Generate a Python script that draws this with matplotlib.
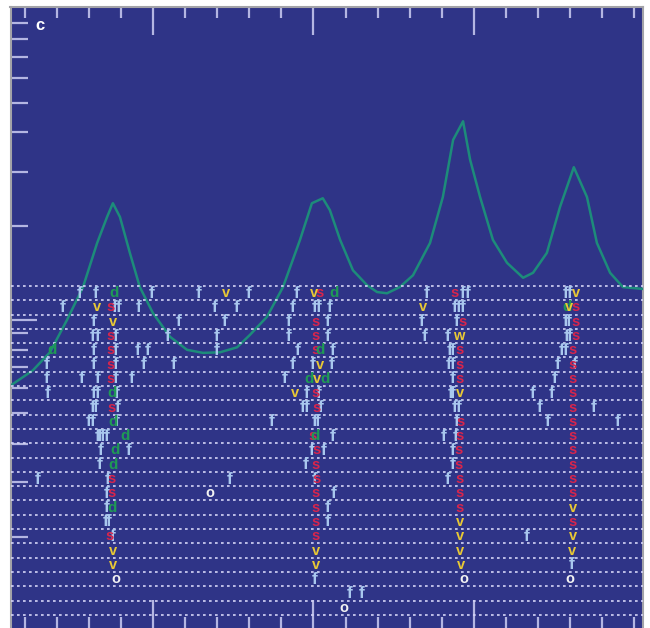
import matplotlib
matplotlib.use("Agg")
import matplotlib.pyplot as plt
from matplotlib.ticker import FixedLocator, NullFormatter

# signal trace along the section (x in tick units, y in % of frame height)
trace_x = [-4.2, 2.6, 7.9, 13.2, 18.2, 22.6, 25.7, 27.5, 29.7, 32.8, 35.9, 40.0,
           45.3, 50.6, 55.6, 60.9, 66.2, 70.2, 75.5, 80.5, 85.8, 89.5, 92.9, 95.1,
           98.3, 102.3, 106.7, 109.8, 112.9, 116.9, 121.0, 126.3, 130.3, 133.5,
           136.6, 138.8, 141.9, 145.9, 150.3, 155.3, 158.4, 162.7, 166.8, 171.1,
           175.2, 178.3, 182.4, 186.4, 192.6]
trace_y = [39.1, 41.5, 44.4, 49.6, 54.9, 62.0, 66.2, 68.4, 66.2, 60.4, 54.9, 50.7,
           46.9, 44.8, 44.3, 44.4, 45.2, 47.2, 50.1, 54.9, 62.5, 68.4, 69.2, 67.3,
           62.5, 57.6, 55.2, 54.1, 53.9, 54.9, 56.8, 62.0, 69.4, 78.6,
           81.6, 75.4, 69.4, 62.5, 58.8, 56.4, 57.2, 60.4, 67.8, 74.2,
           69.4, 62.0, 57.2, 54.9, 54.6]

n_rows = 23

# letter codes per row: {row: [x, ...]}
f_marks = {
    0: [17.3, 22.2, 39.7, 54.3, 69.9, 84.9, 125.4, 136.6, 138.1, 168.7, 169.9],
    1: [12.0, 28.2, 29.4, 35.6, 59.3, 66.2, 83.6, 90.5, 91.7, 95.1, 134.1, 135.3, 136.6],
    2: [21.6, 48.1, 62.4, 82.1, 94.5, 123.8, 134.7, 168.7, 169.6],
    3: [21.3, 22.6, 28.5, 44.7, 59.9, 82.4, 94.5, 124.7, 131.9, 169.0, 169.9],
    4: [21.6, 28.5, 35.3, 38.4, 59.9, 85.2, 96.1, 132.5, 133.5, 167.4, 168.7],
    5: [7.0, 21.6, 28.5, 37.2, 46.5, 83.6, 89.8, 95.8, 132.2, 133.5, 166.2, 171.5],
    6: [7.0, 17.9, 22.6, 28.5, 33.5, 81.1, 133.5, 165.2],
    7: [7.3, 21.6, 22.6, 28.8, 88.0, 91.7, 132.8, 133.5, 158.4, 164.3],
    8: [21.3, 22.2, 29.1, 86.7, 88.0, 92.3, 134.1, 135.3, 160.6, 177.4],
    9: [20.1, 21.3, 28.8, 77.1, 90.5, 91.4, 134.7, 163.0, 184.9],
    10: [22.6, 23.5, 24.4, 25.7, 96.1, 130.6, 134.4],
    11: [23.8, 32.5, 89.5, 93.3, 133.5],
    12: [23.5, 87.7, 133.5],
    13: [4.2, 26.0, 64.0, 90.5, 131.9],
    14: [25.7, 96.4],
    15: [25.7, 94.5],
    16: [25.4, 26.3, 94.5],
    17: [27.5, 156.5],
    19: [170.5],
    20: [90.5],
    21: [101.4, 105.1],
}
s_marks = {
    0: [92.0, 134.1],
    1: [26.9, 171.5],
    2: [90.8, 136.3, 171.5],
    3: [26.9, 90.8, 171.5],
    4: [26.9, 90.5, 135.6, 170.8],
    5: [26.9, 135.6, 170.8],
    6: [26.9, 135.6, 170.8],
    7: [90.8, 170.8],
    8: [27.2, 91.1, 170.8],
    9: [135.9, 170.8],
    10: [89.8, 135.6, 170.8],
    11: [91.1, 135.3, 170.8],
    12: [90.5, 135.3, 170.8],
    13: [27.2, 91.1, 135.6, 170.8],
    14: [27.2, 90.5, 135.6, 170.8],
    15: [90.8, 135.6],
    16: [90.8, 170.8],
    17: [26.6, 90.8],
}
d_marks = {
    0: [27.9, 96.4],
    1: [169.0],
    4: [8.5, 92.0],
    6: [88.6, 93.6],
    7: [27.2],
    9: [27.5],
    10: [31.3, 90.5],
    11: [28.2],
    12: [27.5],
    15: [27.2],
}
v_marks = {
    0: [62.7, 90.1, 171.8],
    1: [22.6, 124.1, 169.6],
    2: [27.5],
    5: [92.0],
    6: [91.1],
    7: [84.2, 135.6],
    15: [170.8],
    16: [135.6],
    17: [135.6, 170.8],
    18: [27.5, 90.8, 135.6, 170.5],
    19: [27.5, 90.8, 135.9],
}
w_marks = {3: [135.3]}
o_marks = {14: [57.8], 20: [28.5, 136.9, 169.9], 22: [99.5]}

x_major = [40, 90, 140]
x_minor = [0, 10, 20, 30, 50, 60, 70, 80, 100, 110, 120, 130, 150, 160, 170, 180, 190]
y_major = [49.6]
y_minor = [97.4, 94.8, 91.9, 88.6, 84.5, 79.9, 73.4, 64.7,
           47.5, 44.8, 42.0, 38.6, 34.6, 29.6, 23.5, 14.7]

BG = "#2f3487"
TICK = "#b4b6e2"
FRAME = "#a3a3a8"

# (marks, letter, colour, weight, size)
styles = [
    (f_marks, "f", "#a9c7ee", "bold", 12.5),
    (s_marks, "s", "#d8254c", "bold", 10.5),
    (d_marks, "d", "#1f9a55", "bold", 11),
    (v_marks, "v", "#e9c935", "bold", 10.5),
    (w_marks, "w", "#e9c935", "bold", 10.5),
    (o_marks, "o", "#f2f2f2", "bold", 10.5),
]

fig = plt.figure(figsize=(6.5, 6.28), dpi=100)
ax = fig.add_axes([10.5 / 650, 0, 632 / 650, 621 / 628])
ax.set_facecolor(BG)
ax.set_xlim(-4.39, 192.5)
ax.set_ylim(0, 100)

ax.plot(trace_x, trace_y, color="#1d8c7a", lw=1.8, zorder=3,
        solid_joinstyle="round")

ax.xaxis.set_major_locator(FixedLocator(x_major))
ax.xaxis.set_minor_locator(FixedLocator(x_minor))
ax.yaxis.set_major_locator(FixedLocator(y_major))
ax.yaxis.set_minor_locator(FixedLocator(y_minor))
for a in (ax.xaxis, ax.yaxis):
    a.set_major_formatter(NullFormatter())
    a.set_minor_formatter(NullFormatter())
ax.tick_params(axis="x", which="major", direction="in", length=20, width=1.6,
               color=TICK, top=True, bottom=True)
ax.tick_params(axis="x", which="minor", direction="in", length=8, width=1.6,
               color=TICK, top=True, bottom=True)
ax.tick_params(axis="y", which="major", direction="in", length=19, width=1.6,
               color=TICK, left=True, right=True)
ax.tick_params(axis="y", which="minor", direction="in", length=12.5, width=1.6,
               color=TICK, left=True, right=True)
for side in ("left", "top", "right"):
    ax.spines[side].set_color(FRAME)
    ax.spines[side].set_linewidth(1.5)
ax.spines["bottom"].set_visible(False)

# row grid for the letter codes, sharing x with the trace
axr = ax.twinx()
axr.set_ylim(23.92, -19.51)
axr.set_yticks([])
for side in axr.spines:
    axr.spines[side].set_visible(False)
for k in range(n_rows + 1):
    axr.axhline(k, color="#d4d4f6", lw=1.2, ls=(0, (1.6, 2.0)), zorder=1)

fam = ["Liberation Sans Narrow", "Liberation Sans", "DejaVu Sans"]
for marks, ch, col, wt, size in styles:
    for row, xs in marks.items():
        for x in xs:
            axr.text(x, row + 0.5, ch, color=col, fontsize=size, fontweight=wt,
                     family=fam, ha="center", va="center", zorder=4)

ax.text(0.047, 0.971, "c", transform=ax.transAxes, color="white",
        fontsize=12, fontweight="bold", family="Liberation Sans",
        ha="center", va="center")

fig.savefig("out.png", dpi=100, facecolor="white")
